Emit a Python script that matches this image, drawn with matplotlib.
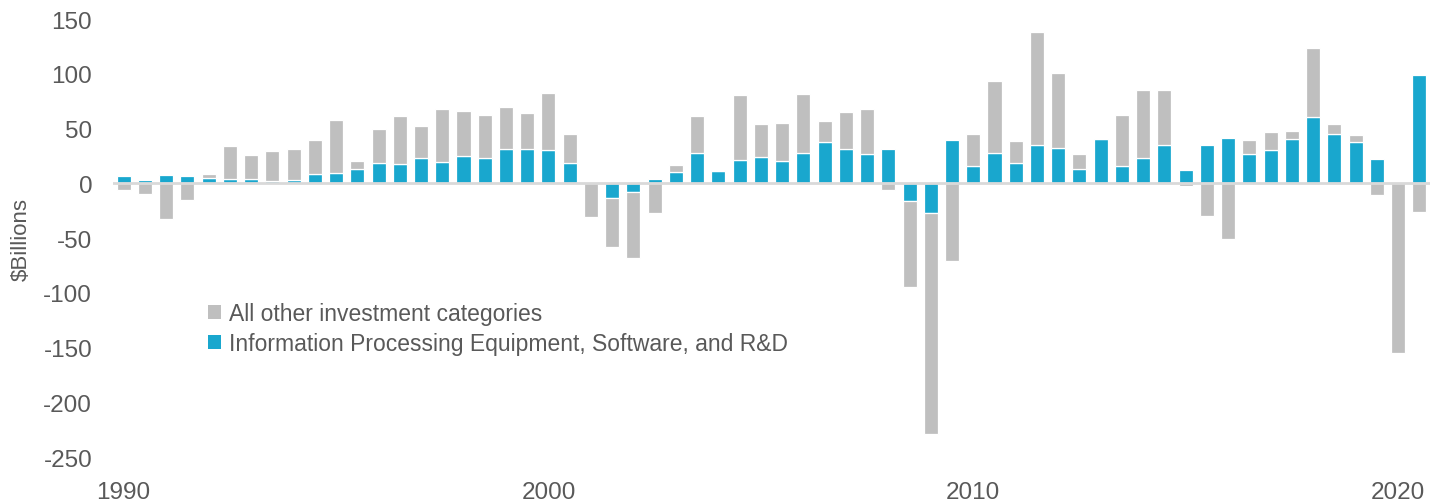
import matplotlib
matplotlib.use("Agg")
import matplotlib.pyplot as plt
from matplotlib.patches import Patch
import numpy as np

# Half-year periods 1990 H1 ... 2020 H2
periods = [f"{y} H{h}" for y in range(1990, 2021) for h in (1, 2)]

ipe_values = [6.4, 3.0, 7.3, 6.4, 5.2, 4.0, 4.0, 2.1, 3.0, 8.5,
              9.7, 12.8, 18.6, 18.0, 23.4, 19.5, 24.7, 22.8, 31.7, 31.7,
              30.7, 18.3, 1.5, -13.7, -7.6, 3.7, 10.4, 28.0, 11.3, 21.0,
              23.7, 20.7, 27.7, 37.4, 31.1, 27.1, 31.4, -16.1, -26.8, 39.3,
              16.1, 27.7, 18.6, 35.0, 32.6, 13.1, 40.5, 16.1, 23.1, 35.3,
              12.2, 34.7, 41.1, 26.8, 30.1, 40.8, 60.3, 45.4, 37.7, 22.2,
              0.4, 99.2]

other_values = [-5.8, -9.4, -32.3, -15.5, 3.0, 30.1, 21.9, 27.4, 28.1, 31.1,
                47.8, 7.3, 30.7, 43.5, 28.7, 48.4, 41.7, 39.9, 37.7, 32.2,
                52.1, 26.4, -31.0, -44.7, -60.3, -27.4, 6.0, 33.5, 0.5, 59.7,
                30.2, 34.7, 53.6, 19.5, 34.0, 40.5, -5.8, -78.9, -202.1, -70.9,
                29.0, 65.5, 19.8, 102.9, 67.9, 14.0, 0.0, 46.6, 61.8, 50.2,
                -2.4, -30.1, -50.8, 12.5, 16.8, 7.3, 63.3, 8.8, 6.7, -10.4,
                -155.3, -25.9]

tick_positions = [0, 20, 40, 60]
tick_labels = ["1990", "2000", "2010", "2020"]
y_ticks = [150, 100, 50, 0, -50, -100, -150, -200, -250]

series_names = ["All other investment categories",
                "Information Processing Equipment, Software, and R&D"]

BLUE = "#19A7CE"
GRAY = "#BFBFBF"
TXT = "#595959"
FONT = "Liberation Sans"

plt.rcParams["font.family"] = [FONT, "DejaVu Sans"]

fig = plt.figure(figsize=(14.4, 5.02), dpi=100)
ax = fig.add_axes([0.0785, 0.0876, 0.9145, 0.8725])

x = np.arange(len(periods))
ipe = np.array(ipe_values)
oth = np.array(other_values)
gray_bottom = np.where(oth >= 0, np.maximum(ipe, 0), np.minimum(ipe, 0))

w = 0.66
ax.bar(x, ipe, width=w, color=BLUE, edgecolor="white", linewidth=0.9, zorder=2)
ax.bar(x, oth, bottom=gray_bottom, width=w, color=GRAY, edgecolor="white",
       linewidth=0.9, zorder=2)
ax.axhline(0, color="#D9D9D9", lw=2.0, zorder=3)

ax.set_xlim(-0.5, len(periods) - 0.5)
ax.set_ylim(-250, 150)
ax.set_yticks(y_ticks)
ax.set_yticklabels([str(v) for v in y_ticks])
ax.set_xticks(tick_positions)
ax.set_xticklabels(tick_labels)
ax.tick_params(axis="both", length=0, labelsize=17.5, labelcolor=TXT)
ax.tick_params(axis="y", pad=15)
ax.tick_params(axis="x", pad=17)
for s in ax.spines.values():
    s.set_visible(False)

ax.set_ylabel("$Billions", fontsize=16, color=TXT, labelpad=8)

handles = [Patch(facecolor=GRAY, edgecolor="none"),
           Patch(facecolor=BLUE, edgecolor="none")]
ax.legend(handles, series_names, loc="upper left",
          bbox_to_anchor=(0.0655, 0.375), frameon=False, fontsize=16.5,
          labelcolor=TXT, handlelength=0.55, handleheight=0.55,
          handletextpad=0.35, labelspacing=0.3, borderaxespad=0)

fig.savefig("out.png", dpi=100)
